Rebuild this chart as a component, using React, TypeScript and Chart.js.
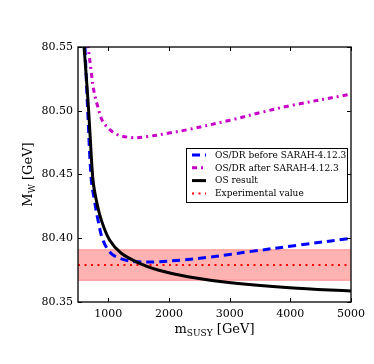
import React, { useEffect, useRef } from "react";
import { Chart, registerables } from "chart.js";

Chart.register(...registerables);

// ---- data ----
const blueM = [615, 660, 719, 770, 829, 911, 1048, 1268, 1500, 1800, 2230, 2640, 3000, 3330, 4155, 5000];
const blueW = [80.55, 80.5, 80.4457, 80.43, 80.4143, 80.3986, 80.388, 80.383, 80.3815, 80.3815, 80.383, 80.385, 80.3873, 80.3895, 80.3947, 80.4];

const magM = [660, 680, 720, 752, 818, 917, 1120, 1367, 1600, 2000, 2290, 3000, 3545, 4000, 5000];
const magW = [80.553, 80.545, 80.53, 80.518, 80.5045, 80.491, 80.482, 80.479, 80.4795, 80.4825, 80.485, 80.4925, 80.499, 80.504, 80.513];

const osM = [600, 665, 700, 747, 801, 884, 1021, 1213, 1515, 1817, 2311, 3020, 3990, 5000];
const osW = [80.55, 80.508, 80.48, 80.4457, 80.43, 80.4143, 80.3986, 80.3882, 80.3803, 80.3751, 80.3698, 80.3651, 80.3612, 80.3586];

const expRange = [500, 5000];
const expValue = 80.379;
const expError = 0.012;

const legendLabels = ["OS/DR before SARAH-4.12.3", "OS/DR after SARAH-4.12.3", "OS result", "Experimental value"];
const xTicks = [1000, 2000, 3000, 4000, 5000];
const yTicks = [80.35, 80.4, 80.45, 80.5, 80.55];

const SERIF = "'DejaVu Serif', serif";

const pts = (xs: number[], ys: number[]) => xs.map((x, i) => ({ x, y: ys[i] }));

const framePlugin = {
  id: "frame",
  afterDatasetsDraw(chart: any) {
    const { ctx, chartArea: a, scales } = chart;
    const xs = scales.x;
    const ys = scales.y;
    ctx.save();
    ctx.strokeStyle = "#000";
    ctx.lineWidth = 1;
    const tl = 4;
    xTicks.forEach((v) => {
      const px = Math.round(xs.getPixelForValue(v)) + 0.5;
      ctx.beginPath();
      ctx.moveTo(px, a.bottom);
      ctx.lineTo(px, a.bottom - tl);
      ctx.moveTo(px, a.top);
      ctx.lineTo(px, a.top + tl);
      ctx.stroke();
    });
    yTicks.forEach((v) => {
      const py = Math.round(ys.getPixelForValue(v)) + 0.5;
      ctx.beginPath();
      ctx.moveTo(a.left, py);
      ctx.lineTo(a.left + tl, py);
      ctx.moveTo(a.right, py);
      ctx.lineTo(a.right - tl, py);
      ctx.stroke();
    });
    ctx.lineWidth = 1.3;
    ctx.strokeRect(a.left, a.top, a.right - a.left, a.bottom - a.top);

    // legend
    const lx = 186, ly = 148, lw = 161, lh = 54;
    ctx.fillStyle = "#fff";
    ctx.fillRect(lx, ly, lw, lh);
    ctx.lineWidth = 1;
    ctx.strokeStyle = "#000";
    ctx.strokeRect(lx + 0.5, ly + 0.5, lw, lh);
    [0, 1, 2, 3].forEach((di, i) => {
      const ds = chart.data.datasets[di];
      const yy = 155 + i * 12.8;
      ctx.save();
      ctx.strokeStyle = ds.borderColor;
      ctx.lineWidth = ds.borderWidth;
      ctx.setLineDash(ds.borderDash || []);
      ctx.beginPath();
      ctx.moveTo(192, yy);
      ctx.lineTo(206, yy);
      ctx.stroke();
      ctx.restore();
      ctx.fillStyle = "#000";
      ctx.font = `9px ${SERIF}`;
      ctx.textAlign = "left";
      ctx.textBaseline = "middle";
      ctx.fillText(legendLabels[i], 215, yy + 0.5);
    });

    // axis titles with subscripts
    ctx.fillStyle = "#000";
    ctx.textBaseline = "alphabetic";
    const drawSub = (main: string, sub: string, rest: string, cx: number, cy: number) => {
      ctx.font = `13px ${SERIF}`;
      const w1 = ctx.measureText(main).width;
      const w3 = ctx.measureText(rest).width;
      ctx.font = `9px ${SERIF}`;
      const w2 = ctx.measureText(sub).width;
      const total = w1 + w2 + w3;
      let x = cx - total / 2;
      ctx.textAlign = "left";
      ctx.font = `13px ${SERIF}`;
      ctx.fillText(main, x, cy);
      x += w1;
      ctx.font = `9px ${SERIF}`;
      ctx.fillText(sub, x, cy + 3);
      x += w2;
      ctx.font = `13px ${SERIF}`;
      ctx.fillText(rest, x, cy);
    };
    drawSub("m", "SUSY", " [GeV]", (a.left + a.right) / 2, 333);
    ctx.save();
    ctx.translate(32, (a.top + a.bottom) / 2);
    ctx.rotate(-Math.PI / 2);
    drawSub("M", "W", " [GeV]", 0, 0);
    ctx.restore();
    ctx.restore();
  },
};

export default function App() {
  const ref = useRef<HTMLCanvasElement>(null);
  useEffect(() => {
    if (!ref.current) return;
    const line = (label: string, data: any, color: string, width: number, dash: number[], order: number) => ({
      label,
      data,
      borderColor: color,
      borderWidth: width,
      borderDash: dash,
      pointRadius: 0,
      tension: 0.35,
      fill: false,
      order,
    });
    const chart = new Chart(ref.current, {
      type: "line",
      data: {
        datasets: [
          line(legendLabels[0], pts(blueM, blueW), "#0000ff", 3, [8, 5], 2),
          line(legendLabels[1], pts(magM, magW), "rgb(200,0,200)", 3, [5, 4, 2, 4], 3),
          line(legendLabels[2], pts(osM, osW), "#000000", 3, [], 1),
          { ...line(legendLabels[3], expRange.map((x) => ({ x, y: expValue })), "#ff0000", 2, [2, 4.5], 4), tension: 0 },
          {
            label: "band-top",
            data: expRange.map((x) => ({ x, y: expValue + expError })),
            borderColor: "rgba(255,0,0,0.35)",
            backgroundColor: "rgba(255,0,0,0.3)",
            borderWidth: 1,
            pointRadius: 0,
            fill: "+1",
            order: 5,
          },
          {
            label: "band-bottom",
            data: expRange.map((x) => ({ x, y: expValue - expError })),
            borderColor: "rgba(255,0,0,0.35)",
            borderWidth: 1,
            pointRadius: 0,
            fill: false,
            order: 6,
          },
        ],
      },
      options: {
        animation: false,
        responsive: false,
        layout: { padding: { left: 0, top: 47, right: 23, bottom: 0 } },
        plugins: { legend: { display: false }, tooltip: { enabled: false } },
        scales: {
          x: {
            type: "linear",
            min: 500,
            max: 5000,
            afterFit: (s: any) => {
              s.height = 62;
            },
            afterBuildTicks: (s: any) => {
              s.ticks = xTicks.map((v) => ({ value: v }));
            },
            grid: { display: false, drawTicks: false, tickLength: 0 },
            border: { display: false },
            ticks: {
              color: "#000",
              font: { family: SERIF, size: 11 },
              padding: 6,
              maxRotation: 0,
              callback: (v: any) => String(v),
            },
          },
          y: {
            type: "linear",
            min: 80.35,
            max: 80.55,
            afterFit: (s: any) => {
              s.width = 78;
            },
            afterBuildTicks: (s: any) => {
              s.ticks = yTicks.map((v) => ({ value: v }));
            },
            grid: { display: false, drawTicks: false, tickLength: 0 },
            border: { display: false },
            ticks: {
              color: "#000",
              font: { family: SERIF, size: 11 },
              padding: 5,
              callback: (v: any) => Number(v).toFixed(2),
            },
          },
        },
      },
      plugins: [framePlugin],
    } as any);
    return () => chart.destroy();
  }, []);
  return (
    <div style={{ position: "fixed", left: 0, top: 0, width: 374, height: 364, background: "#fff" }}>
      <canvas ref={ref} width={374} height={364} style={{ width: 374, height: 364 }} />
    </div>
  );
}
